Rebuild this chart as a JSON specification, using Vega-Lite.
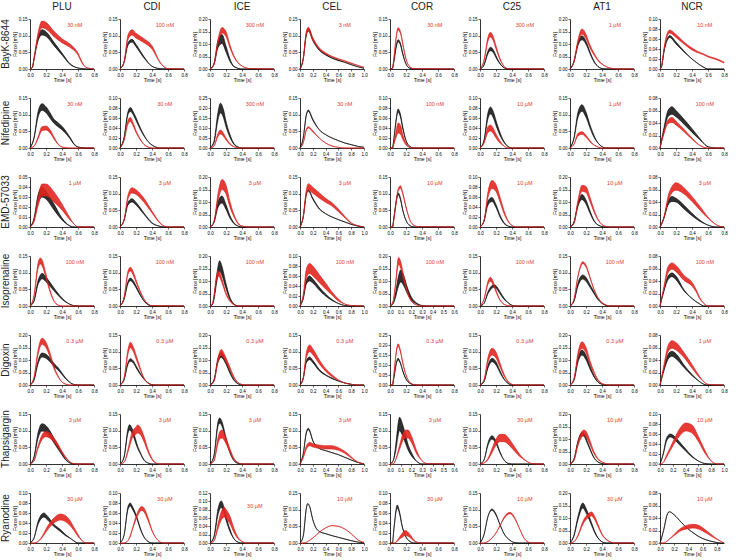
{
"$schema": "https://vega.github.io/schema/vega-lite/v6.json",
"padding": {"left": 0, "top": 2, "right": 0, "bottom": 2},
"datasets": {
"panels": [
{"i":"B1","r":"BayK-8644","c":"PLU"},{"i":"B2","r":"BayK-8644","c":"CDI"},{"i":"B3","r":"BayK-8644","c":"ICE"},{"i":"B4","r":"BayK-8644","c":"CEL"},{"i":"B5","r":"BayK-8644","c":"COR"},{"i":"B6","r":"BayK-8644","c":"C25"},{"i":"B7","r":"BayK-8644","c":"AT1"},{"i":"B8","r":"BayK-8644","c":"NCR"},
{"i":"N1","r":"Nifedipine","c":"PLU"},{"i":"N2","r":"Nifedipine","c":"CDI"},{"i":"N3","r":"Nifedipine","c":"ICE"},{"i":"N4","r":"Nifedipine","c":"CEL"},{"i":"N5","r":"Nifedipine","c":"COR"},{"i":"N6","r":"Nifedipine","c":"C25"},{"i":"N7","r":"Nifedipine","c":"AT1"},{"i":"N8","r":"Nifedipine","c":"NCR"},
{"i":"E1","r":"EMD-57033","c":"PLU"},{"i":"E2","r":"EMD-57033","c":"CDI"},{"i":"E3","r":"EMD-57033","c":"ICE"},{"i":"E4","r":"EMD-57033","c":"CEL"},{"i":"E5","r":"EMD-57033","c":"COR"},{"i":"E6","r":"EMD-57033","c":"C25"},{"i":"E7","r":"EMD-57033","c":"AT1"},{"i":"E8","r":"EMD-57033","c":"NCR"},
{"i":"I1","r":"Isoprenaline","c":"PLU"},{"i":"I2","r":"Isoprenaline","c":"CDI"},{"i":"I3","r":"Isoprenaline","c":"ICE"},{"i":"I4","r":"Isoprenaline","c":"CEL"},{"i":"I5","r":"Isoprenaline","c":"COR"},{"i":"I6","r":"Isoprenaline","c":"C25"},{"i":"I7","r":"Isoprenaline","c":"AT1"},{"i":"I8","r":"Isoprenaline","c":"NCR"},
{"i":"D1","r":"Digoxin","c":"PLU"},{"i":"D2","r":"Digoxin","c":"CDI"},{"i":"D3","r":"Digoxin","c":"ICE"},{"i":"D4","r":"Digoxin","c":"CEL"},{"i":"D5","r":"Digoxin","c":"COR"},{"i":"D6","r":"Digoxin","c":"C25"},{"i":"D7","r":"Digoxin","c":"AT1"},{"i":"D8","r":"Digoxin","c":"NCR"},
{"i":"T1","r":"Thapsigargin","c":"PLU"},{"i":"T2","r":"Thapsigargin","c":"CDI"},{"i":"T3","r":"Thapsigargin","c":"ICE"},{"i":"T4","r":"Thapsigargin","c":"CEL"},{"i":"T5","r":"Thapsigargin","c":"COR"},{"i":"T6","r":"Thapsigargin","c":"C25"},{"i":"T7","r":"Thapsigargin","c":"AT1"},{"i":"T8","r":"Thapsigargin","c":"NCR"},
{"i":"R1","r":"Ryanodine","c":"PLU"},{"i":"R2","r":"Ryanodine","c":"CDI"},{"i":"R3","r":"Ryanodine","c":"ICE"},{"i":"R4","r":"Ryanodine","c":"CEL"},{"i":"R5","r":"Ryanodine","c":"COR"},{"i":"R6","r":"Ryanodine","c":"C25"},{"i":"R7","r":"Ryanodine","c":"AT1"},{"i":"R8","r":"Ryanodine","c":"NCR"}
],
"curves": [
{"i":"B1","t":0.56,"y":0.132,"lab":"30 nM"},
{"i":"B1","t":0,"a":0,"b":0,"p":0,"q":0},{"i":"B1","t":0.03,"a":0.005,"b":0.005,"p":0.005,"q":0.005},{"i":"B1","t":0.05,"a":0.028,"b":0.032,"p":0.028,"q":0.032},{"i":"B1","t":0.1,"a":0.084,"b":0.096,"p":0.093,"q":0.108},{"i":"B1","t":0.15,"a":0.102,"b":0.118,"p":0.124,"q":0.144},{"i":"B1","t":0.2,"a":0.098,"b":0.112,"p":0.12,"q":0.14},{"i":"B1","t":0.3,"a":0.07,"b":0.08,"p":0.097,"q":0.113},{"i":"B1","t":0.4,"a":0.042,"b":0.048,"p":0.079,"q":0.091},{"i":"B1","t":0.5,"a":0.014,"b":0.016,"p":0.065,"q":0.075},{"i":"B1","t":0.6,"a":0.003,"b":0.003,"p":0.042,"q":0.048},{"i":"B1","t":0.65,"a":0.001,"b":0.001,"p":0.018,"q":0.022},{"i":"B1","t":0.7,"a":0,"b":0,"p":0.005,"q":0.005},{"i":"B1","t":0.8,"a":0,"b":0,"p":0,"q":0},
{"i":"B2","t":0.56,"y":0.132,"lab":"100 nM"},
{"i":"B2","t":0,"a":0,"b":0,"p":0,"q":0},{"i":"B2","t":0.05,"a":0.019,"b":0.021,"p":0.019,"q":0.021},{"i":"B2","t":0.1,"a":0.071,"b":0.079,"p":0.088,"q":0.102},{"i":"B2","t":0.15,"a":0.081,"b":0.089,"p":0.102,"q":0.118},{"i":"B2","t":0.2,"a":0.067,"b":0.074,"p":0.093,"q":0.107},{"i":"B2","t":0.3,"a":0.033,"b":0.037,"p":0.079,"q":0.091},{"i":"B2","t":0.4,"a":0.008,"b":0.008,"p":0.06,"q":0.07},{"i":"B2","t":0.5,"a":0.001,"b":0.001,"p":0.019,"q":0.021},{"i":"B2","t":0.6,"a":0,"b":0,"p":0.001,"q":0.001},{"i":"B2","t":0.8,"a":0,"b":0,"p":0,"q":0},
{"i":"B3","t":0.56,"y":0.176,"lab":"300 nM"},
{"i":"B3","t":0,"a":0,"b":0,"p":0,"q":0},{"i":"B3","t":0.05,"a":0.017,"b":0.023,"p":0.019,"q":0.021},{"i":"B3","t":0.1,"a":0.085,"b":0.115,"p":0.102,"q":0.118},{"i":"B3","t":0.15,"a":0.102,"b":0.138,"p":0.144,"q":0.166},{"i":"B3","t":0.2,"a":0.068,"b":0.092,"p":0.13,"q":0.15},{"i":"B3","t":0.25,"a":0.03,"b":0.04,"p":0.084,"q":0.096},{"i":"B3","t":0.3,"a":0.009,"b":0.011,"p":0.047,"q":0.053},{"i":"B3","t":0.4,"a":0,"b":0,"p":0.012,"q":0.012},{"i":"B3","t":0.5,"a":0,"b":0,"p":0.002,"q":0.002},{"i":"B3","t":0.8,"a":0,"b":0,"p":0,"q":0},
{"i":"B4","t":0.7,"y":0.132,"lab":"3 nM"},
{"i":"B4","t":0,"a":0,"b":0,"p":0,"q":0},{"i":"B4","t":0.05,"a":0.029,"b":0.031,"p":0.029,"q":0.031},{"i":"B4","t":0.1,"a":0.102,"b":0.108,"p":0.106,"q":0.114},{"i":"B4","t":0.13,"a":0.114,"b":0.122,"p":0.115,"q":0.125},{"i":"B4","t":0.2,"a":0.085,"b":0.091,"p":0.086,"q":0.094},{"i":"B4","t":0.3,"a":0.056,"b":0.06,"p":0.06,"q":0.064},{"i":"B4","t":0.4,"a":0.042,"b":0.044,"p":0.045,"q":0.049},{"i":"B4","t":0.5,"a":0.032,"b":0.034,"p":0.036,"q":0.038},{"i":"B4","t":0.6,"a":0.025,"b":0.027,"p":0.029,"q":0.031},{"i":"B4","t":0.7,"a":0.02,"b":0.02,"p":0.023,"q":0.025},{"i":"B4","t":0.8,"a":0.013,"b":0.013,"p":0.016,"q":0.018},{"i":"B4","t":0.9,"a":0.007,"b":0.007,"p":0.011,"q":0.011},{"i":"B4","t":1.0,"a":0.002,"b":0.002,"p":0.005,"q":0.005},
{"i":"B5","t":0.56,"y":0.132,"lab":"30 nM"},
{"i":"B5","t":0,"a":0,"b":0,"p":0,"q":0},{"i":"B5","t":0.03,"a":0.002,"b":0.002,"p":0.002,"q":0.002},{"i":"B5","t":0.05,"a":0.024,"b":0.026,"p":0.034,"q":0.036},{"i":"B5","t":0.08,"a":0.067,"b":0.073,"p":0.097,"q":0.103},{"i":"B5","t":0.1,"a":0.082,"b":0.088,"p":0.116,"q":0.124},{"i":"B5","t":0.13,"a":0.072,"b":0.078,"p":0.107,"q":0.113},{"i":"B5","t":0.16,"a":0.043,"b":0.047,"p":0.073,"q":0.077},{"i":"B5","t":0.2,"a":0.015,"b":0.015,"p":0.029,"q":0.031},{"i":"B5","t":0.25,"a":0.002,"b":0.002,"p":0.006,"q":0.006},{"i":"B5","t":0.3,"a":0,"b":0,"p":0.001,"q":0.001},{"i":"B5","t":0.8,"a":0,"b":0,"p":0,"q":0},
{"i":"B6","t":0.56,"y":0.132,"lab":"300 nM"},
{"i":"B6","t":0,"a":0,"b":0,"p":0,"q":0},{"i":"B6","t":0.05,"a":0.011,"b":0.013,"p":0.023,"q":0.027},{"i":"B6","t":0.1,"a":0.046,"b":0.054,"p":0.084,"q":0.096},{"i":"B6","t":0.13,"a":0.055,"b":0.065,"p":0.096,"q":0.11},{"i":"B6","t":0.17,"a":0.048,"b":0.056,"p":0.082,"q":0.094},{"i":"B6","t":0.2,"a":0.034,"b":0.04,"p":0.06,"q":0.07},{"i":"B6","t":0.25,"a":0.015,"b":0.017,"p":0.028,"q":0.032},{"i":"B6","t":0.3,"a":0.004,"b":0.004,"p":0.008,"q":0.008},{"i":"B6","t":0.35,"a":0,"b":0,"p":0.001,"q":0.001},{"i":"B6","t":0.8,"a":0,"b":0,"p":0,"q":0},
{"i":"B7","t":0.56,"y":0.176,"lab":"1 µM"},
{"i":"B7","t":0,"a":0,"b":0,"p":0,"q":0},{"i":"B7","t":0.05,"a":0.028,"b":0.032,"p":0.028,"q":0.032},{"i":"B7","t":0.1,"a":0.094,"b":0.106,"p":0.102,"q":0.118},{"i":"B7","t":0.15,"a":0.117,"b":0.133,"p":0.14,"q":0.16},{"i":"B7","t":0.2,"a":0.099,"b":0.111,"p":0.121,"q":0.139},{"i":"B7","t":0.25,"a":0.061,"b":0.069,"p":0.084,"q":0.096},{"i":"B7","t":0.3,"a":0.028,"b":0.032,"p":0.056,"q":0.064},{"i":"B7","t":0.35,"a":0.01,"b":0.01,"p":0.033,"q":0.037},{"i":"B7","t":0.4,"a":0.002,"b":0.002,"p":0.019,"q":0.021},{"i":"B7","t":0.5,"a":0,"b":0,"p":0.004,"q":0.004},{"i":"B7","t":0.6,"a":0,"b":0,"p":0,"q":0},{"i":"B7","t":0.8,"a":0,"b":0,"p":0,"q":0},
{"i":"B8","t":0.56,"y":0.088,"lab":"10 nM"},
{"i":"B8","t":0,"a":0,"b":0,"p":0,"q":0},{"i":"B8","t":0.02,"a":0.005,"b":0.005,"p":0.006,"q":0.006},{"i":"B8","t":0.05,"a":0.034,"b":0.036,"p":0.038,"q":0.042},{"i":"B8","t":0.1,"a":0.06,"b":0.064,"p":0.069,"q":0.075},{"i":"B8","t":0.12,"a":0.063,"b":0.067,"p":0.072,"q":0.078},{"i":"B8","t":0.2,"a":0.05,"b":0.054,"p":0.063,"q":0.069},{"i":"B8","t":0.3,"a":0.034,"b":0.036,"p":0.05,"q":0.054},{"i":"B8","t":0.4,"a":0.02,"b":0.02,"p":0.038,"q":0.042},{"i":"B8","t":0.5,"a":0.008,"b":0.008,"p":0.031,"q":0.033},{"i":"B8","t":0.55,"a":0.003,"b":0.003,"p":0.028,"q":0.03},{"i":"B8","t":0.6,"a":0,"b":0,"p":0.024,"q":0.026},{"i":"B8","t":0.7,"a":0,"b":0,"p":0.019,"q":0.021},{"i":"B8","t":0.8,"a":0,"b":0,"p":0.012,"q":0.014},
{"i":"N1","t":0.56,"y":0.132,"lab":"30 nM"},
{"i":"N1","t":0,"a":0,"b":0,"p":0,"q":0},{"i":"N1","t":0.05,"a":0.028,"b":0.032,"p":0.005,"q":0.005},{"i":"N1","t":0.1,"a":0.092,"b":0.108,"p":0.027,"q":0.033},{"i":"N1","t":0.15,"a":0.113,"b":0.133,"p":0.052,"q":0.064},{"i":"N1","t":0.2,"a":0.106,"b":0.124,"p":0.054,"q":0.066},{"i":"N1","t":0.25,"a":0.09,"b":0.106,"p":0.045,"q":0.055},{"i":"N1","t":0.3,"a":0.074,"b":0.086,"p":0.027,"q":0.033},{"i":"N1","t":0.35,"a":0.064,"b":0.076,"p":0.011,"q":0.013},{"i":"N1","t":0.4,"a":0.055,"b":0.065,"p":0.003,"q":0.003},{"i":"N1","t":0.5,"a":0.028,"b":0.032,"p":0,"q":0},{"i":"N1","t":0.55,"a":0.011,"b":0.013,"p":0,"q":0},{"i":"N1","t":0.6,"a":0.003,"b":0.003,"p":0,"q":0},{"i":"N1","t":0.7,"a":0,"b":0,"p":0,"q":0},{"i":"N1","t":0.8,"a":0,"b":0,"p":0,"q":0},
{"i":"N2","t":0.56,"y":0.088,"lab":"30 nM"},
{"i":"N2","t":0,"a":0,"b":0,"p":0,"q":0},{"i":"N2","t":0.05,"a":0.019,"b":0.021,"p":0.014,"q":0.016},{"i":"N2","t":0.1,"a":0.067,"b":0.073,"p":0.048,"q":0.056},{"i":"N2","t":0.13,"a":0.073,"b":0.081,"p":0.053,"q":0.061},{"i":"N2","t":0.17,"a":0.065,"b":0.071,"p":0.042,"q":0.048},{"i":"N2","t":0.2,"a":0.055,"b":0.061,"p":0.031,"q":0.035},{"i":"N2","t":0.25,"a":0.038,"b":0.042,"p":0.017,"q":0.019},{"i":"N2","t":0.3,"a":0.024,"b":0.026,"p":0.007,"q":0.007},{"i":"N2","t":0.35,"a":0.013,"b":0.013,"p":0.002,"q":0.002},{"i":"N2","t":0.4,"a":0.006,"b":0.006,"p":0,"q":0},{"i":"N2","t":0.5,"a":0,"b":0,"p":0,"q":0},{"i":"N2","t":0.8,"a":0,"b":0,"p":0,"q":0},
{"i":"N3","t":0.56,"y":0.22,"lab":"300 nM"},
{"i":"N3","t":0,"a":0,"b":0,"p":0,"q":0},{"i":"N3","t":0.05,"a":0.026,"b":0.034,"p":0.01,"q":0.01},{"i":"N3","t":0.1,"a":0.141,"b":0.179,"p":0.057,"q":0.073},{"i":"N3","t":0.13,"a":0.176,"b":0.224,"p":0.07,"q":0.09},{"i":"N3","t":0.17,"a":0.15,"b":0.19,"p":0.057,"q":0.073},{"i":"N3","t":0.2,"a":0.106,"b":0.134,"p":0.04,"q":0.05},{"i":"N3","t":0.25,"a":0.053,"b":0.067,"p":0.018,"q":0.022},{"i":"N3","t":0.3,"a":0.018,"b":0.022,"p":0.006,"q":0.006},{"i":"N3","t":0.35,"a":0.005,"b":0.005,"p":0.001,"q":0.001},{"i":"N3","t":0.4,"a":0,"b":0,"p":0,"q":0},{"i":"N3","t":0.8,"a":0,"b":0,"p":0,"q":0},
{"i":"N4","t":0.7,"y":0.132,"lab":"30 nM"},
{"i":"N4","t":0,"a":0,"b":0,"p":0,"q":0},{"i":"N4","t":0.05,"a":0.03,"b":0.03,"p":0.015,"q":0.015},{"i":"N4","t":0.1,"a":0.098,"b":0.102,"p":0.053,"q":0.057},{"i":"N4","t":0.13,"a":0.11,"b":0.114,"p":0.06,"q":0.064},{"i":"N4","t":0.2,"a":0.083,"b":0.087,"p":0.048,"q":0.052},{"i":"N4","t":0.3,"a":0.055,"b":0.055,"p":0.03,"q":0.03},{"i":"N4","t":0.4,"a":0.04,"b":0.04,"p":0.015,"q":0.015},{"i":"N4","t":0.5,"a":0.03,"b":0.03,"p":0.006,"q":0.006},{"i":"N4","t":0.6,"a":0.022,"b":0.022,"p":0.002,"q":0.002},{"i":"N4","t":0.7,"a":0.015,"b":0.015,"p":0,"q":0},{"i":"N4","t":0.8,"a":0.01,"b":0.01,"p":0,"q":0},{"i":"N4","t":0.9,"a":0.005,"b":0.005,"p":0,"q":0},{"i":"N4","t":1.0,"a":0.002,"b":0.002,"p":0,"q":0},
{"i":"N5","t":0.56,"y":0.088,"lab":"100 nM"},
{"i":"N5","t":0,"a":0,"b":0,"p":0,"q":0},{"i":"N5","t":0.03,"a":0,"b":0,"p":0,"q":0},{"i":"N5","t":0.05,"a":0.02,"b":0.02,"p":0.008,"q":0.012},{"i":"N5","t":0.08,"a":0.058,"b":0.062,"p":0.023,"q":0.037},{"i":"N5","t":0.1,"a":0.072,"b":0.078,"p":0.03,"q":0.05},{"i":"N5","t":0.13,"a":0.062,"b":0.068,"p":0.028,"q":0.046},{"i":"N5","t":0.16,"a":0.038,"b":0.042,"p":0.017,"q":0.027},{"i":"N5","t":0.2,"a":0.015,"b":0.015,"p":0.006,"q":0.01},{"i":"N5","t":0.25,"a":0.003,"b":0.003,"p":0.001,"q":0.001},{"i":"N5","t":0.3,"a":0,"b":0,"p":0,"q":0},{"i":"N5","t":0.8,"a":0,"b":0,"p":0,"q":0},
{"i":"N6","t":0.56,"y":0.088,"lab":"10 µM"},
{"i":"N6","t":0,"a":0,"b":0,"p":0,"q":0},{"i":"N6","t":0.05,"a":0.014,"b":0.016,"p":0.01,"q":0.01},{"i":"N6","t":0.1,"a":0.059,"b":0.071,"p":0.031,"q":0.043},{"i":"N6","t":0.13,"a":0.068,"b":0.082,"p":0.034,"q":0.046},{"i":"N6","t":0.17,"a":0.059,"b":0.071,"p":0.028,"q":0.038},{"i":"N6","t":0.2,"a":0.045,"b":0.055,"p":0.02,"q":0.028},{"i":"N6","t":0.25,"a":0.025,"b":0.031,"p":0.01,"q":0.014},{"i":"N6","t":0.3,"a":0.011,"b":0.013,"p":0.004,"q":0.004},{"i":"N6","t":0.35,"a":0.003,"b":0.003,"p":0,"q":0},{"i":"N6","t":0.4,"a":0,"b":0,"p":0,"q":0},{"i":"N6","t":0.8,"a":0,"b":0,"p":0,"q":0},
{"i":"N7","t":0.56,"y":0.132,"lab":"1 µM"},
{"i":"N7","t":0,"a":0,"b":0,"p":0,"q":0},{"i":"N7","t":0.05,"a":0.028,"b":0.032,"p":0.012,"q":0.012},{"i":"N7","t":0.1,"a":0.092,"b":0.108,"p":0.036,"q":0.044},{"i":"N7","t":0.15,"a":0.11,"b":0.13,"p":0.041,"q":0.049},{"i":"N7","t":0.2,"a":0.092,"b":0.108,"p":0.032,"q":0.038},{"i":"N7","t":0.25,"a":0.06,"b":0.07,"p":0.018,"q":0.022},{"i":"N7","t":0.3,"a":0.032,"b":0.038,"p":0.009,"q":0.009},{"i":"N7","t":0.35,"a":0.015,"b":0.015,"p":0.003,"q":0.003},{"i":"N7","t":0.4,"a":0.004,"b":0.004,"p":0,"q":0},{"i":"N7","t":0.45,"a":0,"b":0,"p":0,"q":0},{"i":"N7","t":0.8,"a":0,"b":0,"p":0,"q":0},
{"i":"N8","t":0.56,"y":0.07,"lab":"100 nM"},
{"i":"N8","t":0,"a":0,"b":0,"p":0,"q":0},{"i":"N8","t":0.05,"a":0.027,"b":0.033,"p":0.023,"q":0.027},{"i":"N8","t":0.1,"a":0.05,"b":0.06,"p":0.039,"q":0.045},{"i":"N8","t":0.15,"a":0.054,"b":0.066,"p":0.041,"q":0.049},{"i":"N8","t":0.2,"a":0.05,"b":0.06,"p":0.037,"q":0.043},{"i":"N8","t":0.3,"a":0.038,"b":0.046,"p":0.026,"q":0.03},{"i":"N8","t":0.4,"a":0.025,"b":0.031,"p":0.014,"q":0.016},{"i":"N8","t":0.5,"a":0.013,"b":0.015,"p":0.004,"q":0.004},{"i":"N8","t":0.55,"a":0.007,"b":0.007,"p":0.001,"q":0.001},{"i":"N8","t":0.6,"a":0.002,"b":0.002,"p":0,"q":0},{"i":"N8","t":0.7,"a":0,"b":0,"p":0,"q":0},{"i":"N8","t":0.8,"a":0,"b":0,"p":0,"q":0},
{"i":"E1","t":0.56,"y":0.044,"lab":"1 µM"},
{"i":"E1","t":0,"a":0,"b":0,"p":0,"q":0},{"i":"E1","t":0.05,"a":0.007,"b":0.009,"p":0.005,"q":0.007},{"i":"E1","t":0.1,"a":0.024,"b":0.032,"p":0.021,"q":0.029},{"i":"E1","t":0.15,"a":0.03,"b":0.04,"p":0.031,"q":0.043},{"i":"E1","t":0.2,"a":0.028,"b":0.036,"p":0.031,"q":0.043},{"i":"E1","t":0.3,"a":0.017,"b":0.023,"p":0.025,"q":0.035},{"i":"E1","t":0.4,"a":0.007,"b":0.009,"p":0.017,"q":0.023},{"i":"E1","t":0.5,"a":0.001,"b":0.001,"p":0.007,"q":0.009},{"i":"E1","t":0.55,"a":0,"b":0,"p":0.003,"q":0.003},{"i":"E1","t":0.6,"a":0,"b":0,"p":0,"q":0},{"i":"E1","t":0.8,"a":0,"b":0,"p":0,"q":0},
{"i":"E2","t":0.56,"y":0.132,"lab":"3 µM"},
{"i":"E2","t":0,"a":0,"b":0,"p":0,"q":0},{"i":"E2","t":0.05,"a":0.019,"b":0.021,"p":0.019,"q":0.021},{"i":"E2","t":0.1,"a":0.066,"b":0.074,"p":0.084,"q":0.096},{"i":"E2","t":0.15,"a":0.075,"b":0.085,"p":0.102,"q":0.118},{"i":"E2","t":0.2,"a":0.066,"b":0.074,"p":0.098,"q":0.112},{"i":"E2","t":0.3,"a":0.038,"b":0.042,"p":0.074,"q":0.086},{"i":"E2","t":0.4,"a":0.011,"b":0.013,"p":0.042,"q":0.048},{"i":"E2","t":0.5,"a":0.002,"b":0.002,"p":0.011,"q":0.013},{"i":"E2","t":0.55,"a":0,"b":0,"p":0.003,"q":0.003},{"i":"E2","t":0.6,"a":0,"b":0,"p":0,"q":0},{"i":"E2","t":0.8,"a":0,"b":0,"p":0,"q":0},
{"i":"E3","t":0.56,"y":0.176,"lab":"3 µM"},
{"i":"E3","t":0,"a":0,"b":0,"p":0,"q":0},{"i":"E3","t":0.05,"a":0.017,"b":0.023,"p":0.018,"q":0.022},{"i":"E3","t":0.1,"a":0.078,"b":0.102,"p":0.106,"q":0.134},{"i":"E3","t":0.15,"a":0.096,"b":0.124,"p":0.15,"q":0.19},{"i":"E3","t":0.2,"a":0.07,"b":0.09,"p":0.132,"q":0.168},{"i":"E3","t":0.25,"a":0.035,"b":0.045,"p":0.079,"q":0.101},{"i":"E3","t":0.3,"a":0.013,"b":0.017,"p":0.04,"q":0.05},{"i":"E3","t":0.35,"a":0.004,"b":0.004,"p":0.013,"q":0.017},{"i":"E3","t":0.4,"a":0,"b":0,"p":0.004,"q":0.004},{"i":"E3","t":0.5,"a":0,"b":0,"p":0,"q":0},{"i":"E3","t":0.8,"a":0,"b":0,"p":0,"q":0},
{"i":"E4","t":0.7,"y":0.132,"lab":"3 µM"},
{"i":"E4","t":0,"a":0,"b":0,"p":0,"q":0},{"i":"E4","t":0.05,"a":0.03,"b":0.03,"p":0.028,"q":0.032},{"i":"E4","t":0.1,"a":0.098,"b":0.102,"p":0.097,"q":0.113},{"i":"E4","t":0.13,"a":0.108,"b":0.112,"p":0.11,"q":0.13},{"i":"E4","t":0.2,"a":0.083,"b":0.087,"p":0.101,"q":0.119},{"i":"E4","t":0.3,"a":0.054,"b":0.056,"p":0.087,"q":0.103},{"i":"E4","t":0.4,"a":0.04,"b":0.04,"p":0.074,"q":0.086},{"i":"E4","t":0.5,"a":0.03,"b":0.03,"p":0.063,"q":0.073},{"i":"E4","t":0.6,"a":0.022,"b":0.022,"p":0.046,"q":0.054},{"i":"E4","t":0.7,"a":0.015,"b":0.015,"p":0.028,"q":0.032},{"i":"E4","t":0.8,"a":0.008,"b":0.008,"p":0.011,"q":0.013},{"i":"E4","t":0.9,"a":0.003,"b":0.003,"p":0.004,"q":0.004},{"i":"E4","t":1.0,"a":0,"b":0,"p":0,"q":0},
{"i":"E5","t":0.56,"y":0.132,"lab":"10 µM"},
{"i":"E5","t":0,"a":0,"b":0,"p":0,"q":0},{"i":"E5","t":0.03,"a":0,"b":0,"p":0,"q":0},{"i":"E5","t":0.05,"a":0.029,"b":0.031,"p":0.024,"q":0.026},{"i":"E5","t":0.08,"a":0.078,"b":0.082,"p":0.078,"q":0.082},{"i":"E5","t":0.1,"a":0.097,"b":0.103,"p":0.107,"q":0.113},{"i":"E5","t":0.13,"a":0.082,"b":0.088,"p":0.116,"q":0.124},{"i":"E5","t":0.16,"a":0.049,"b":0.051,"p":0.097,"q":0.103},{"i":"E5","t":0.2,"a":0.02,"b":0.02,"p":0.058,"q":0.062},{"i":"E5","t":0.25,"a":0.004,"b":0.004,"p":0.02,"q":0.02},{"i":"E5","t":0.3,"a":0,"b":0,"p":0.005,"q":0.005},{"i":"E5","t":0.35,"a":0,"b":0,"p":0.001,"q":0.001},{"i":"E5","t":0.8,"a":0,"b":0,"p":0,"q":0},
{"i":"E6","t":0.56,"y":0.088,"lab":"10 µM"},
{"i":"E6","t":0,"a":0,"b":0,"p":0,"q":0},{"i":"E6","t":0.05,"a":0.011,"b":0.013,"p":0.011,"q":0.013},{"i":"E6","t":0.1,"a":0.044,"b":0.052,"p":0.059,"q":0.071},{"i":"E6","t":0.15,"a":0.051,"b":0.059,"p":0.077,"q":0.093},{"i":"E6","t":0.2,"a":0.039,"b":0.045,"p":0.071,"q":0.085},{"i":"E6","t":0.25,"a":0.02,"b":0.024,"p":0.05,"q":0.06},{"i":"E6","t":0.3,"a":0.007,"b":0.009,"p":0.027,"q":0.033},{"i":"E6","t":0.35,"a":0.002,"b":0.002,"p":0.011,"q":0.013},{"i":"E6","t":0.4,"a":0,"b":0,"p":0.003,"q":0.003},{"i":"E6","t":0.45,"a":0,"b":0,"p":0,"q":0},{"i":"E6","t":0.8,"a":0,"b":0,"p":0,"q":0},
{"i":"E7","t":0.56,"y":0.176,"lab":"10 µM"},
{"i":"E7","t":0,"a":0,"b":0,"p":0,"q":0},{"i":"E7","t":0.05,"a":0.018,"b":0.022,"p":0.014,"q":0.016},{"i":"E7","t":0.1,"a":0.083,"b":0.097,"p":0.092,"q":0.108},{"i":"E7","t":0.15,"a":0.11,"b":0.13,"p":0.143,"q":0.167},{"i":"E7","t":0.2,"a":0.092,"b":0.108,"p":0.138,"q":0.162},{"i":"E7","t":0.25,"a":0.055,"b":0.065,"p":0.101,"q":0.119},{"i":"E7","t":0.3,"a":0.023,"b":0.027,"p":0.06,"q":0.07},{"i":"E7","t":0.35,"a":0.008,"b":0.008,"p":0.028,"q":0.032},{"i":"E7","t":0.4,"a":0.002,"b":0.002,"p":0.01,"q":0.01},{"i":"E7","t":0.45,"a":0,"b":0,"p":0.002,"q":0.002},{"i":"E7","t":0.5,"a":0,"b":0,"p":0,"q":0},{"i":"E7","t":0.8,"a":0,"b":0,"p":0,"q":0},
{"i":"E8","t":0.56,"y":0.07,"lab":"3 µM"},
{"i":"E8","t":0,"a":0,"b":0,"p":0,"q":0},{"i":"E8","t":0.05,"a":0.014,"b":0.016,"p":0.014,"q":0.016},{"i":"E8","t":0.1,"a":0.035,"b":0.041,"p":0.041,"q":0.049},{"i":"E8","t":0.15,"a":0.041,"b":0.049,"p":0.055,"q":0.065},{"i":"E8","t":0.2,"a":0.04,"b":0.046,"p":0.059,"q":0.071},{"i":"E8","t":0.3,"a":0.029,"b":0.035,"p":0.053,"q":0.063},{"i":"E8","t":0.4,"a":0.018,"b":0.022,"p":0.041,"q":0.049},{"i":"E8","t":0.5,"a":0.009,"b":0.011,"p":0.027,"q":0.033},{"i":"E8","t":0.6,"a":0.003,"b":0.003,"p":0.014,"q":0.016},{"i":"E8","t":0.7,"a":0,"b":0,"p":0.004,"q":0.004},{"i":"E8","t":0.75,"a":0,"b":0,"p":0.001,"q":0.001},{"i":"E8","t":0.8,"a":0,"b":0,"p":0,"q":0},
{"i":"I1","t":0.56,"y":0.132,"lab":"100 nM"},
{"i":"I1","t":0,"a":0,"b":0,"p":0,"q":0},{"i":"I1","t":0.05,"a":0.014,"b":0.016,"p":0.028,"q":0.032},{"i":"I1","t":0.1,"a":0.064,"b":0.076,"p":0.112,"q":0.128},{"i":"I1","t":0.13,"a":0.077,"b":0.093,"p":0.126,"q":0.144},{"i":"I1","t":0.15,"a":0.082,"b":0.098,"p":0.121,"q":0.139},{"i":"I1","t":0.2,"a":0.073,"b":0.087,"p":0.084,"q":0.096},{"i":"I1","t":0.25,"a":0.059,"b":0.071,"p":0.042,"q":0.048},{"i":"I1","t":0.3,"a":0.046,"b":0.054,"p":0.014,"q":0.016},{"i":"I1","t":0.35,"a":0.032,"b":0.038,"p":0.003,"q":0.003},{"i":"I1","t":0.4,"a":0.02,"b":0.024,"p":0,"q":0},{"i":"I1","t":0.5,"a":0.005,"b":0.005,"p":0,"q":0},{"i":"I1","t":0.55,"a":0.001,"b":0.001,"p":0,"q":0},{"i":"I1","t":0.6,"a":0,"b":0,"p":0,"q":0},{"i":"I1","t":0.8,"a":0,"b":0,"p":0,"q":0},
{"i":"I2","t":0.56,"y":0.132,"lab":"100 nM"},
{"i":"I2","t":0,"a":0,"b":0,"p":0,"q":0},{"i":"I2","t":0.05,"a":0.019,"b":0.021,"p":0.024,"q":0.026},{"i":"I2","t":0.1,"a":0.067,"b":0.074,"p":0.095,"q":0.105},{"i":"I2","t":0.13,"a":0.076,"b":0.084,"p":0.105,"q":0.116},{"i":"I2","t":0.17,"a":0.067,"b":0.074,"p":0.09,"q":0.1},{"i":"I2","t":0.2,"a":0.055,"b":0.061,"p":0.071,"q":0.079},{"i":"I2","t":0.25,"a":0.033,"b":0.037,"p":0.043,"q":0.047},{"i":"I2","t":0.3,"a":0.015,"b":0.015,"p":0.019,"q":0.021},{"i":"I2","t":0.35,"a":0.004,"b":0.004,"p":0.006,"q":0.006},{"i":"I2","t":0.4,"a":0,"b":0,"p":0.001,"q":0.001},{"i":"I2","t":0.8,"a":0,"b":0,"p":0,"q":0},
{"i":"I3","t":0.56,"y":0.176,"lab":"100 nM"},
{"i":"I3","t":0,"a":0,"b":0,"p":0,"q":0},{"i":"I3","t":0.03,"a":0.005,"b":0.005,"p":0.01,"q":0.01},{"i":"I3","t":0.05,"a":0.026,"b":0.034,"p":0.037,"q":0.043},{"i":"I3","t":0.08,"a":0.087,"b":0.113,"p":0.101,"q":0.119},{"i":"I3","t":0.1,"a":0.122,"b":0.158,"p":0.12,"q":0.14},{"i":"I3","t":0.12,"a":0.139,"b":0.181,"p":0.115,"q":0.135},{"i":"I3","t":0.15,"a":0.122,"b":0.158,"p":0.092,"q":0.108},{"i":"I3","t":0.2,"a":0.07,"b":0.09,"p":0.046,"q":0.054},{"i":"I3","t":0.25,"a":0.026,"b":0.034,"p":0.018,"q":0.022},{"i":"I3","t":0.3,"a":0.008,"b":0.008,"p":0.005,"q":0.005},{"i":"I3","t":0.35,"a":0,"b":0,"p":0,"q":0},{"i":"I3","t":0.8,"a":0,"b":0,"p":0,"q":0},
{"i":"I4","t":0.7,"y":0.088,"lab":"100 nM"},
{"i":"I4","t":0,"a":0,"b":0,"p":0,"q":0},{"i":"I4","t":0.05,"a":0.014,"b":0.016,"p":0.017,"q":0.023},{"i":"I4","t":0.1,"a":0.044,"b":0.052,"p":0.056,"q":0.074},{"i":"I4","t":0.15,"a":0.05,"b":0.06,"p":0.065,"q":0.085},{"i":"I4","t":0.2,"a":0.046,"b":0.054,"p":0.06,"q":0.08},{"i":"I4","t":0.3,"a":0.032,"b":0.038,"p":0.047,"q":0.063},{"i":"I4","t":0.4,"a":0.02,"b":0.024,"p":0.034,"q":0.046},{"i":"I4","t":0.5,"a":0.011,"b":0.013,"p":0.022,"q":0.028},{"i":"I4","t":0.6,"a":0.005,"b":0.005,"p":0.01,"q":0.014},{"i":"I4","t":0.7,"a":0.001,"b":0.001,"p":0.004,"q":0.004},{"i":"I4","t":0.8,"a":0,"b":0,"p":0.001,"q":0.001},{"i":"I4","t":1.0,"a":0,"b":0,"p":0,"q":0},
{"i":"I5","t":0.42,"y":0.176,"lab":"100 nM"},
{"i":"I5","t":0,"a":0,"b":0,"p":0,"q":0},{"i":"I5","t":0.03,"a":0.01,"b":0.01,"p":0.018,"q":0.022},{"i":"I5","t":0.05,"a":0.032,"b":0.048,"p":0.074,"q":0.086},{"i":"I5","t":0.08,"a":0.08,"b":0.12,"p":0.166,"q":0.194},{"i":"I5","t":0.1,"a":0.096,"b":0.144,"p":0.152,"q":0.178},{"i":"I5","t":0.13,"a":0.08,"b":0.12,"p":0.101,"q":0.119},{"i":"I5","t":0.16,"a":0.052,"b":0.078,"p":0.055,"q":0.065},{"i":"I5","t":0.2,"a":0.024,"b":0.036,"p":0.018,"q":0.022},{"i":"I5","t":0.25,"a":0.008,"b":0.012,"p":0.004,"q":0.004},{"i":"I5","t":0.3,"a":0.002,"b":0.002,"p":0,"q":0},{"i":"I5","t":0.35,"a":0,"b":0,"p":0,"q":0},{"i":"I5","t":0.6,"a":0,"b":0,"p":0,"q":0},
{"i":"I6","t":0.56,"y":0.132,"lab":"100 nM"},
{"i":"I6","t":0,"a":0,"b":0,"p":0,"q":0},{"i":"I6","t":0.05,"a":0.008,"b":0.008,"p":0.019,"q":0.021},{"i":"I6","t":0.1,"a":0.037,"b":0.043,"p":0.065,"q":0.075},{"i":"I6","t":0.13,"a":0.048,"b":0.056,"p":0.074,"q":0.086},{"i":"I6","t":0.17,"a":0.056,"b":0.064,"p":0.06,"q":0.07},{"i":"I6","t":0.2,"a":0.053,"b":0.061,"p":0.042,"q":0.048},{"i":"I6","t":0.25,"a":0.037,"b":0.043,"p":0.017,"q":0.019},{"i":"I6","t":0.3,"a":0.02,"b":0.024,"p":0.005,"q":0.005},{"i":"I6","t":0.35,"a":0.01,"b":0.01,"p":0.001,"q":0.001},{"i":"I6","t":0.4,"a":0.002,"b":0.002,"p":0,"q":0},{"i":"I6","t":0.45,"a":0,"b":0,"p":0,"q":0},{"i":"I6","t":0.8,"a":0,"b":0,"p":0,"q":0},
{"i":"I7","t":0.56,"y":0.132,"lab":"100 nM"},
{"i":"I7","t":0,"a":0,"b":0,"p":0,"q":0},{"i":"I7","t":0.05,"a":0.014,"b":0.016,"p":0.02,"q":0.02},{"i":"I7","t":0.1,"a":0.06,"b":0.07,"p":0.088,"q":0.092},{"i":"I7","t":0.16,"a":0.081,"b":0.093,"p":0.127,"q":0.133},{"i":"I7","t":0.2,"a":0.074,"b":0.086,"p":0.117,"q":0.123},{"i":"I7","t":0.25,"a":0.056,"b":0.064,"p":0.083,"q":0.087},{"i":"I7","t":0.3,"a":0.037,"b":0.043,"p":0.049,"q":0.051},{"i":"I7","t":0.35,"a":0.019,"b":0.021,"p":0.025,"q":0.025},{"i":"I7","t":0.4,"a":0.008,"b":0.008,"p":0.01,"q":0.01},{"i":"I7","t":0.45,"a":0.002,"b":0.002,"p":0.003,"q":0.003},{"i":"I7","t":0.5,"a":0,"b":0,"p":0,"q":0},{"i":"I7","t":0.8,"a":0,"b":0,"p":0,"q":0},
{"i":"I8","t":0.56,"y":0.07,"lab":"100 nM"},
{"i":"I8","t":0,"a":0,"b":0,"p":0,"q":0},{"i":"I8","t":0.05,"a":0.024,"b":0.026,"p":0.028,"q":0.032},{"i":"I8","t":0.1,"a":0.042,"b":0.048,"p":0.053,"q":0.063},{"i":"I8","t":0.15,"a":0.047,"b":0.053,"p":0.059,"q":0.069},{"i":"I8","t":0.2,"a":0.042,"b":0.048,"p":0.055,"q":0.065},{"i":"I8","t":0.3,"a":0.024,"b":0.026,"p":0.041,"q":0.049},{"i":"I8","t":0.4,"a":0.012,"b":0.012,"p":0.032,"q":0.038},{"i":"I8","t":0.45,"a":0.007,"b":0.007,"p":0.023,"q":0.027},{"i":"I8","t":0.5,"a":0.003,"b":0.003,"p":0.011,"q":0.013},{"i":"I8","t":0.55,"a":0,"b":0,"p":0.004,"q":0.004},{"i":"I8","t":0.6,"a":0,"b":0,"p":0,"q":0},{"i":"I8","t":0.8,"a":0,"b":0,"p":0,"q":0},
{"i":"D1","t":0.56,"y":0.176,"lab":"0.3 µM"},
{"i":"D1","t":0,"a":0,"b":0,"p":0,"q":0},{"i":"D1","t":0.05,"a":0.019,"b":0.021,"p":0.028,"q":0.032},{"i":"D1","t":0.1,"a":0.084,"b":0.096,"p":0.121,"q":0.139},{"i":"D1","t":0.15,"a":0.112,"b":0.128,"p":0.163,"q":0.187},{"i":"D1","t":0.2,"a":0.107,"b":0.123,"p":0.149,"q":0.171},{"i":"D1","t":0.25,"a":0.093,"b":0.107,"p":0.112,"q":0.128},{"i":"D1","t":0.3,"a":0.074,"b":0.086,"p":0.065,"q":0.075},{"i":"D1","t":0.35,"a":0.06,"b":0.07,"p":0.033,"q":0.037},{"i":"D1","t":0.4,"a":0.042,"b":0.048,"p":0.012,"q":0.012},{"i":"D1","t":0.45,"a":0.023,"b":0.027,"p":0.003,"q":0.003},{"i":"D1","t":0.5,"a":0.01,"b":0.01,"p":0,"q":0},{"i":"D1","t":0.55,"a":0.002,"b":0.002,"p":0,"q":0},{"i":"D1","t":0.6,"a":0,"b":0,"p":0,"q":0},{"i":"D1","t":0.8,"a":0,"b":0,"p":0,"q":0},
{"i":"D2","t":0.56,"y":0.132,"lab":"0.3 µM"},
{"i":"D2","t":0,"a":0,"b":0,"p":0,"q":0},{"i":"D2","t":0.05,"a":0.015,"b":0.015,"p":0.019,"q":0.021},{"i":"D2","t":0.1,"a":0.062,"b":0.068,"p":0.093,"q":0.107},{"i":"D2","t":0.13,"a":0.071,"b":0.079,"p":0.112,"q":0.128},{"i":"D2","t":0.17,"a":0.065,"b":0.071,"p":0.098,"q":0.112},{"i":"D2","t":0.2,"a":0.052,"b":0.058,"p":0.079,"q":0.091},{"i":"D2","t":0.25,"a":0.033,"b":0.037,"p":0.047,"q":0.053},{"i":"D2","t":0.3,"a":0.017,"b":0.019,"p":0.019,"q":0.021},{"i":"D2","t":0.35,"a":0.006,"b":0.006,"p":0.006,"q":0.006},{"i":"D2","t":0.4,"a":0.001,"b":0.001,"p":0.001,"q":0.001},{"i":"D2","t":0.45,"a":0,"b":0,"p":0,"q":0},{"i":"D2","t":0.8,"a":0,"b":0,"p":0,"q":0},
{"i":"D3","t":0.56,"y":0.176,"lab":"0.3 µM"},
{"i":"D3","t":0,"a":0,"b":0,"p":0,"q":0},{"i":"D3","t":0.05,"a":0.018,"b":0.022,"p":0.014,"q":0.016},{"i":"D3","t":0.1,"a":0.092,"b":0.108,"p":0.091,"q":0.109},{"i":"D3","t":0.14,"a":0.11,"b":0.13,"p":0.118,"q":0.142},{"i":"D3","t":0.2,"a":0.083,"b":0.097,"p":0.091,"q":0.109},{"i":"D3","t":0.25,"a":0.046,"b":0.054,"p":0.059,"q":0.071},{"i":"D3","t":0.3,"a":0.018,"b":0.022,"p":0.027,"q":0.033},{"i":"D3","t":0.35,"a":0.005,"b":0.005,"p":0.01,"q":0.01},{"i":"D3","t":0.4,"a":0,"b":0,"p":0.002,"q":0.002},{"i":"D3","t":0.45,"a":0,"b":0,"p":0,"q":0},{"i":"D3","t":0.8,"a":0,"b":0,"p":0,"q":0},
{"i":"D4","t":0.7,"y":0.132,"lab":"0.3 µM"},
{"i":"D4","t":0,"a":0,"b":0,"p":0,"q":0},{"i":"D4","t":0.05,"a":0.019,"b":0.021,"p":0.018,"q":0.022},{"i":"D4","t":0.1,"a":0.067,"b":0.074,"p":0.082,"q":0.098},{"i":"D4","t":0.15,"a":0.076,"b":0.084,"p":0.1,"q":0.12},{"i":"D4","t":0.2,"a":0.067,"b":0.074,"p":0.091,"q":0.109},{"i":"D4","t":0.3,"a":0.043,"b":0.047,"p":0.064,"q":0.076},{"i":"D4","t":0.4,"a":0.029,"b":0.031,"p":0.041,"q":0.049},{"i":"D4","t":0.5,"a":0.019,"b":0.021,"p":0.025,"q":0.031},{"i":"D4","t":0.6,"a":0.012,"b":0.012,"p":0.014,"q":0.016},{"i":"D4","t":0.7,"a":0.006,"b":0.006,"p":0.006,"q":0.006},{"i":"D4","t":0.8,"a":0.002,"b":0.002,"p":0.002,"q":0.002},{"i":"D4","t":0.9,"a":0,"b":0,"p":0,"q":0},{"i":"D4","t":1.0,"a":0,"b":0,"p":0,"q":0},
{"i":"D5","t":0.56,"y":0.22,"lab":"0.3 µM"},
{"i":"D5","t":0,"a":0,"b":0,"p":0,"q":0},{"i":"D5","t":0.03,"a":0,"b":0,"p":0,"q":0},{"i":"D5","t":0.05,"a":0.039,"b":0.041,"p":0.058,"q":0.062},{"i":"D5","t":0.08,"a":0.107,"b":0.113,"p":0.165,"q":0.175},{"i":"D5","t":0.1,"a":0.126,"b":0.134,"p":0.194,"q":0.206},{"i":"D5","t":0.13,"a":0.107,"b":0.113,"p":0.165,"q":0.175},{"i":"D5","t":0.16,"a":0.068,"b":0.072,"p":0.107,"q":0.113},{"i":"D5","t":0.2,"a":0.029,"b":0.031,"p":0.049,"q":0.051},{"i":"D5","t":0.25,"a":0.008,"b":0.008,"p":0.012,"q":0.012},{"i":"D5","t":0.3,"a":0.001,"b":0.001,"p":0.002,"q":0.002},{"i":"D5","t":0.35,"a":0,"b":0,"p":0,"q":0},{"i":"D5","t":0.8,"a":0,"b":0,"p":0,"q":0},
{"i":"D6","t":0.56,"y":0.132,"lab":"0.3 µM"},
{"i":"D6","t":0,"a":0,"b":0,"p":0,"q":0},{"i":"D6","t":0.05,"a":0.01,"b":0.01,"p":0.014,"q":0.016},{"i":"D6","t":0.1,"a":0.051,"b":0.059,"p":0.068,"q":0.083},{"i":"D6","t":0.15,"a":0.07,"b":0.08,"p":0.09,"q":0.11},{"i":"D6","t":0.2,"a":0.06,"b":0.07,"p":0.081,"q":0.099},{"i":"D6","t":0.25,"a":0.037,"b":0.043,"p":0.054,"q":0.066},{"i":"D6","t":0.3,"a":0.017,"b":0.019,"p":0.027,"q":0.033},{"i":"D6","t":0.35,"a":0.005,"b":0.005,"p":0.009,"q":0.011},{"i":"D6","t":0.4,"a":0,"b":0,"p":0.002,"q":0.002},{"i":"D6","t":0.45,"a":0,"b":0,"p":0,"q":0},{"i":"D6","t":0.8,"a":0,"b":0,"p":0,"q":0},
{"i":"D7","t":0.56,"y":0.176,"lab":"0.3 µM"},
{"i":"D7","t":0,"a":0,"b":0,"p":0,"q":0},{"i":"D7","t":0.05,"a":0.018,"b":0.022,"p":0.023,"q":0.027},{"i":"D7","t":0.1,"a":0.092,"b":0.108,"p":0.11,"q":0.13},{"i":"D7","t":0.15,"a":0.12,"b":0.14,"p":0.147,"q":0.173},{"i":"D7","t":0.2,"a":0.101,"b":0.119,"p":0.129,"q":0.151},{"i":"D7","t":0.25,"a":0.064,"b":0.076,"p":0.083,"q":0.097},{"i":"D7","t":0.3,"a":0.032,"b":0.038,"p":0.046,"q":0.054},{"i":"D7","t":0.35,"a":0.011,"b":0.013,"p":0.018,"q":0.022},{"i":"D7","t":0.4,"a":0.003,"b":0.003,"p":0.006,"q":0.006},{"i":"D7","t":0.45,"a":0,"b":0,"p":0.001,"q":0.001},{"i":"D7","t":0.5,"a":0,"b":0,"p":0,"q":0},{"i":"D7","t":0.8,"a":0,"b":0,"p":0,"q":0},
{"i":"D8","t":0.56,"y":0.07,"lab":"1 µM"},
{"i":"D8","t":0,"a":0,"b":0,"p":0,"q":0},{"i":"D8","t":0.05,"a":0.023,"b":0.027,"p":0.027,"q":0.033},{"i":"D8","t":0.1,"a":0.041,"b":0.049,"p":0.053,"q":0.063},{"i":"D8","t":0.15,"a":0.046,"b":0.054,"p":0.059,"q":0.071},{"i":"D8","t":0.2,"a":0.042,"b":0.05,"p":0.056,"q":0.068},{"i":"D8","t":0.3,"a":0.028,"b":0.032,"p":0.044,"q":0.052},{"i":"D8","t":0.4,"a":0.015,"b":0.017,"p":0.027,"q":0.033},{"i":"D8","t":0.5,"a":0.005,"b":0.005,"p":0.011,"q":0.013},{"i":"D8","t":0.55,"a":0.001,"b":0.001,"p":0.005,"q":0.005},{"i":"D8","t":0.6,"a":0,"b":0,"p":0.001,"q":0.001},{"i":"D8","t":0.8,"a":0,"b":0,"p":0,"q":0},
{"i":"T1","t":0.56,"y":0.132,"lab":"3 µM"},
{"i":"T1","t":0,"a":0,"b":0,"p":0,"q":0},{"i":"T1","t":0.05,"a":0.018,"b":0.022,"p":0.009,"q":0.011},{"i":"T1","t":0.1,"a":0.077,"b":0.093,"p":0.046,"q":0.054},{"i":"T1","t":0.15,"a":0.099,"b":0.121,"p":0.073,"q":0.087},{"i":"T1","t":0.2,"a":0.095,"b":0.115,"p":0.082,"q":0.098},{"i":"T1","t":0.25,"a":0.081,"b":0.099,"p":0.077,"q":0.093},{"i":"T1","t":0.3,"a":0.063,"b":0.077,"p":0.066,"q":0.078},{"i":"T1","t":0.35,"a":0.045,"b":0.055,"p":0.05,"q":0.06},{"i":"T1","t":0.4,"a":0.027,"b":0.033,"p":0.032,"q":0.038},{"i":"T1","t":0.45,"a":0.011,"b":0.013,"p":0.016,"q":0.02},{"i":"T1","t":0.5,"a":0.003,"b":0.003,"p":0.006,"q":0.006},{"i":"T1","t":0.55,"a":0,"b":0,"p":0.001,"q":0.001},{"i":"T1","t":0.6,"a":0,"b":0,"p":0,"q":0},{"i":"T1","t":0.8,"a":0,"b":0,"p":0,"q":0},
{"i":"T2","t":0.56,"y":0.132,"lab":"3 µM"},
{"i":"T2","t":0,"a":0,"b":0,"p":0,"q":0},{"i":"T2","t":0.05,"a":0.019,"b":0.021,"p":0.005,"q":0.005},{"i":"T2","t":0.1,"a":0.093,"b":0.107,"p":0.036,"q":0.044},{"i":"T2","t":0.12,"a":0.102,"b":0.118,"p":0.053,"q":0.067},{"i":"T2","t":0.15,"a":0.093,"b":0.107,"p":0.076,"q":0.094},{"i":"T2","t":0.2,"a":0.06,"b":0.07,"p":0.089,"q":0.111},{"i":"T2","t":0.22,"a":0.047,"b":0.054,"p":0.093,"q":0.117},{"i":"T2","t":0.25,"a":0.033,"b":0.037,"p":0.089,"q":0.111},{"i":"T2","t":0.3,"a":0.011,"b":0.013,"p":0.067,"q":0.083},{"i":"T2","t":0.35,"a":0.003,"b":0.003,"p":0.036,"q":0.044},{"i":"T2","t":0.4,"a":0,"b":0,"p":0.013,"q":0.017},{"i":"T2","t":0.45,"a":0,"b":0,"p":0.003,"q":0.003},{"i":"T2","t":0.5,"a":0,"b":0,"p":0,"q":0},{"i":"T2","t":0.8,"a":0,"b":0,"p":0,"q":0},
{"i":"T3","t":0.56,"y":0.132,"lab":"3 µM"},
{"i":"T3","t":0,"a":0,"b":0,"p":0,"q":0},{"i":"T3","t":0.05,"a":0.024,"b":0.026,"p":0.009,"q":0.011},{"i":"T3","t":0.1,"a":0.113,"b":0.127,"p":0.061,"q":0.079},{"i":"T3","t":0.12,"a":0.122,"b":0.138,"p":0.074,"q":0.096},{"i":"T3","t":0.15,"a":0.113,"b":0.127,"p":0.078,"q":0.102},{"i":"T3","t":0.2,"a":0.071,"b":0.079,"p":0.061,"q":0.079},{"i":"T3","t":0.25,"a":0.033,"b":0.037,"p":0.035,"q":0.045},{"i":"T3","t":0.3,"a":0.01,"b":0.01,"p":0.013,"q":0.017},{"i":"T3","t":0.35,"a":0.002,"b":0.002,"p":0.004,"q":0.004},{"i":"T3","t":0.4,"a":0,"b":0,"p":0,"q":0},{"i":"T3","t":0.8,"a":0,"b":0,"p":0,"q":0},
{"i":"T4","t":0.7,"y":0.132,"lab":"3 µM"},
{"i":"T4","t":0,"a":0,"b":0,"p":0,"q":0},{"i":"T4","t":0.05,"a":0.03,"b":0.03,"p":0.018,"q":0.022},{"i":"T4","t":0.1,"a":0.093,"b":0.097,"p":0.045,"q":0.055},{"i":"T4","t":0.13,"a":0.103,"b":0.107,"p":0.053,"q":0.063},{"i":"T4","t":0.15,"a":0.098,"b":0.102,"p":0.055,"q":0.065},{"i":"T4","t":0.2,"a":0.069,"b":0.071,"p":0.051,"q":0.061},{"i":"T4","t":0.3,"a":0.047,"b":0.047,"p":0.047,"q":0.057},{"i":"T4","t":0.4,"a":0.04,"b":0.04,"p":0.045,"q":0.055},{"i":"T4","t":0.5,"a":0.034,"b":0.034,"p":0.045,"q":0.055},{"i":"T4","t":0.6,"a":0.028,"b":0.028,"p":0.041,"q":0.049},{"i":"T4","t":0.7,"a":0.02,"b":0.02,"p":0.032,"q":0.038},{"i":"T4","t":0.8,"a":0.012,"b":0.012,"p":0.018,"q":0.022},{"i":"T4","t":0.9,"a":0.005,"b":0.005,"p":0.006,"q":0.006},{"i":"T4","t":1.0,"a":0,"b":0,"p":0,"q":0},
{"i":"T5","t":0.42,"y":0.132,"lab":"3 µM"},
{"i":"T5","t":0,"a":0,"b":0,"p":0,"q":0},{"i":"T5","t":0.03,"a":0.01,"b":0.01,"p":0,"q":0},{"i":"T5","t":0.05,"a":0.033,"b":0.047,"p":0.01,"q":0.01},{"i":"T5","t":0.09,"a":0.1,"b":0.14,"p":0.044,"q":0.056},{"i":"T5","t":0.12,"a":0.083,"b":0.117,"p":0.07,"q":0.09},{"i":"T5","t":0.15,"a":0.058,"b":0.082,"p":0.078,"q":0.102},{"i":"T5","t":0.17,"a":0.042,"b":0.058,"p":0.078,"q":0.102},{"i":"T5","t":0.2,"a":0.025,"b":0.035,"p":0.065,"q":0.085},{"i":"T5","t":0.25,"a":0.008,"b":0.008,"p":0.03,"q":0.04},{"i":"T5","t":0.3,"a":0,"b":0,"p":0.01,"q":0.01},{"i":"T5","t":0.35,"a":0,"b":0,"p":0.001,"q":0.001},{"i":"T5","t":0.6,"a":0,"b":0,"p":0,"q":0},
{"i":"T6","t":0.56,"y":0.132,"lab":"30 µM"},
{"i":"T6","t":0,"a":0,"b":0,"p":0,"q":0},{"i":"T6","t":0.05,"a":0.012,"b":0.012,"p":0.003,"q":0.003},{"i":"T6","t":0.1,"a":0.056,"b":0.064,"p":0.013,"q":0.017},{"i":"T6","t":0.15,"a":0.075,"b":0.085,"p":0.034,"q":0.046},{"i":"T6","t":0.2,"a":0.061,"b":0.069,"p":0.056,"q":0.074},{"i":"T6","t":0.25,"a":0.033,"b":0.037,"p":0.067,"q":0.089},{"i":"T6","t":0.3,"a":0.012,"b":0.012,"p":0.067,"q":0.089},{"i":"T6","t":0.35,"a":0.002,"b":0.002,"p":0.06,"q":0.08},{"i":"T6","t":0.4,"a":0,"b":0,"p":0.047,"q":0.063},{"i":"T6","t":0.5,"a":0,"b":0,"p":0.022,"q":0.028},{"i":"T6","t":0.6,"a":0,"b":0,"p":0.006,"q":0.006},{"i":"T6","t":0.65,"a":0,"b":0,"p":0.001,"q":0.001},{"i":"T6","t":0.7,"a":0,"b":0,"p":0,"q":0},{"i":"T6","t":0.8,"a":0,"b":0,"p":0,"q":0},
{"i":"T7","t":0.56,"y":0.176,"lab":"10 µM"},
{"i":"T7","t":0,"a":0,"b":0,"p":0,"q":0},{"i":"T7","t":0.05,"a":0.02,"b":0.02,"p":0.014,"q":0.016},{"i":"T7","t":0.1,"a":0.086,"b":0.094,"p":0.073,"q":0.087},{"i":"T7","t":0.15,"a":0.114,"b":0.126,"p":0.109,"q":0.131},{"i":"T7","t":0.18,"a":0.109,"b":0.121,"p":0.114,"q":0.136},{"i":"T7","t":0.2,"a":0.095,"b":0.105,"p":0.109,"q":0.131},{"i":"T7","t":0.25,"a":0.057,"b":0.063,"p":0.077,"q":0.093},{"i":"T7","t":0.3,"a":0.024,"b":0.026,"p":0.041,"q":0.049},{"i":"T7","t":0.35,"a":0.008,"b":0.008,"p":0.018,"q":0.022},{"i":"T7","t":0.4,"a":0.002,"b":0.002,"p":0.008,"q":0.008},{"i":"T7","t":0.45,"a":0,"b":0,"p":0.002,"q":0.002},{"i":"T7","t":0.5,"a":0,"b":0,"p":0,"q":0},{"i":"T7","t":0.8,"a":0,"b":0,"p":0,"q":0},
{"i":"T8","t":0.7,"y":0.088,"lab":"10 µM"},
{"i":"T8","t":0,"a":0,"b":0,"p":0,"q":0},{"i":"T8","t":0.05,"a":0.019,"b":0.021,"p":0.003,"q":0.003},{"i":"T8","t":0.1,"a":0.045,"b":0.051,"p":0.013,"q":0.017},{"i":"T8","t":0.16,"a":0.054,"b":0.06,"p":0.027,"q":0.033},{"i":"T8","t":0.2,"a":0.052,"b":0.058,"p":0.036,"q":0.044},{"i":"T8","t":0.3,"a":0.039,"b":0.045,"p":0.055,"q":0.069},{"i":"T8","t":0.4,"a":0.026,"b":0.03,"p":0.066,"q":0.082},{"i":"T8","t":0.5,"a":0.014,"b":0.016,"p":0.062,"q":0.078},{"i":"T8","t":0.6,"a":0.006,"b":0.006,"p":0.045,"q":0.055},{"i":"T8","t":0.7,"a":0.001,"b":0.001,"p":0.022,"q":0.028},{"i":"T8","t":0.8,"a":0,"b":0,"p":0.006,"q":0.006},{"i":"T8","t":0.9,"a":0,"b":0,"p":0,"q":0},{"i":"T8","t":1.0,"a":0,"b":0,"p":0,"q":0},
{"i":"R1","t":0.56,"y":0.088,"lab":"30 µM"},
{"i":"R1","t":0,"a":0,"b":0,"p":0,"q":0},{"i":"R1","t":0.05,"a":0.01,"b":0.01,"p":0,"q":0},{"i":"R1","t":0.1,"a":0.037,"b":0.043,"p":0.003,"q":0.003},{"i":"R1","t":0.175,"a":0.052,"b":0.06,"p":0.016,"q":0.02},{"i":"R1","t":0.2,"a":0.049,"b":0.057,"p":0.022,"q":0.028},{"i":"R1","t":0.3,"a":0.033,"b":0.037,"p":0.04,"q":0.05},{"i":"R1","t":0.38,"a":0.023,"b":0.027,"p":0.046,"q":0.058},{"i":"R1","t":0.45,"a":0.014,"b":0.016,"p":0.042,"q":0.054},{"i":"R1","t":0.5,"a":0.01,"b":0.01,"p":0.035,"q":0.045},{"i":"R1","t":0.55,"a":0.004,"b":0.004,"p":0.025,"q":0.031},{"i":"R1","t":0.6,"a":0,"b":0,"p":0.013,"q":0.017},{"i":"R1","t":0.65,"a":0,"b":0,"p":0.005,"q":0.005},{"i":"R1","t":0.7,"a":0,"b":0,"p":0,"q":0},{"i":"R1","t":0.8,"a":0,"b":0,"p":0,"q":0},
{"i":"R2","t":0.56,"y":0.088,"lab":"30 µM"},
{"i":"R2","t":0,"a":0,"b":0,"p":0,"q":0},{"i":"R2","t":0.05,"a":0.015,"b":0.015,"p":0,"q":0},{"i":"R2","t":0.1,"a":0.067,"b":0.073,"p":0.005,"q":0.005},{"i":"R2","t":0.13,"a":0.074,"b":0.08,"p":0.014,"q":0.016},{"i":"R2","t":0.15,"a":0.069,"b":0.075,"p":0.024,"q":0.026},{"i":"R2","t":0.2,"a":0.053,"b":0.057,"p":0.047,"q":0.053},{"i":"R2","t":0.27,"a":0.021,"b":0.023,"p":0.065,"q":0.073},{"i":"R2","t":0.3,"a":0.012,"b":0.012,"p":0.062,"q":0.07},{"i":"R2","t":0.35,"a":0.003,"b":0.003,"p":0.045,"q":0.051},{"i":"R2","t":0.4,"a":0,"b":0,"p":0.024,"q":0.026},{"i":"R2","t":0.45,"a":0,"b":0,"p":0.01,"q":0.01},{"i":"R2","t":0.5,"a":0,"b":0,"p":0.002,"q":0.002},{"i":"R2","t":0.55,"a":0,"b":0,"p":0,"q":0},{"i":"R2","t":0.8,"a":0,"b":0,"p":0,"q":0},
{"i":"R3","t":0.56,"y":0.088,"lab":"30 µM"},
{"i":"R3","t":0,"a":0,"b":0,"p":0,"q":0},{"i":"R3","t":0.05,"a":0.014,"b":0.016,"p":0.005,"q":0.005},{"i":"R3","t":0.1,"a":0.068,"b":0.082,"p":0.034,"q":0.046},{"i":"R3","t":0.14,"a":0.085,"b":0.101,"p":0.055,"q":0.075},{"i":"R3","t":0.18,"a":0.068,"b":0.082,"p":0.062,"q":0.086},{"i":"R3","t":0.2,"a":0.055,"b":0.065,"p":0.059,"q":0.081},{"i":"R3","t":0.25,"a":0.027,"b":0.033,"p":0.046,"q":0.064},{"i":"R3","t":0.3,"a":0.01,"b":0.01,"p":0.025,"q":0.035},{"i":"R3","t":0.35,"a":0.002,"b":0.002,"p":0.01,"q":0.014},{"i":"R3","t":0.4,"a":0,"b":0,"p":0.004,"q":0.004},{"i":"R3","t":0.45,"a":0,"b":0,"p":0,"q":0},{"i":"R3","t":0.8,"a":0,"b":0,"p":0,"q":0},
{"i":"R4","t":0.7,"y":0.132,"lab":"10 µM"},
{"i":"R4","t":0,"a":0,"b":0,"p":0,"q":0},{"i":"R4","t":0.05,"a":0.02,"b":0.02,"p":0,"q":0},{"i":"R4","t":0.1,"a":0.105,"b":0.105,"p":0.002,"q":0.002},{"i":"R4","t":0.12,"a":0.118,"b":0.118,"p":0.004,"q":0.004},{"i":"R4","t":0.15,"a":0.11,"b":0.11,"p":0.008,"q":0.008},{"i":"R4","t":0.2,"a":0.07,"b":0.07,"p":0.015,"q":0.015},{"i":"R4","t":0.25,"a":0.045,"b":0.045,"p":0.023,"q":0.023},{"i":"R4","t":0.3,"a":0.035,"b":0.035,"p":0.032,"q":0.032},{"i":"R4","t":0.4,"a":0.028,"b":0.028,"p":0.045,"q":0.045},{"i":"R4","t":0.5,"a":0.022,"b":0.022,"p":0.052,"q":0.052},{"i":"R4","t":0.6,"a":0.017,"b":0.017,"p":0.05,"q":0.05},{"i":"R4","t":0.7,"a":0.012,"b":0.012,"p":0.042,"q":0.042},{"i":"R4","t":0.8,"a":0.007,"b":0.007,"p":0.028,"q":0.028},{"i":"R4","t":0.9,"a":0.003,"b":0.003,"p":0.01,"q":0.01},{"i":"R4","t":1.0,"a":0,"b":0,"p":0.002,"q":0.002},
{"i":"R5","t":0.56,"y":0.088,"lab":"30 µM"},
{"i":"R5","t":0,"a":0,"b":0,"p":0,"q":0},{"i":"R5","t":0.03,"a":0,"b":0,"p":0,"q":0},{"i":"R5","t":0.05,"a":0.03,"b":0.03,"p":0,"q":0},{"i":"R5","t":0.09,"a":0.07,"b":0.076,"p":0.003,"q":0.005},{"i":"R5","t":0.12,"a":0.058,"b":0.062,"p":0.008,"q":0.012},{"i":"R5","t":0.15,"a":0.034,"b":0.036,"p":0.011,"q":0.019},{"i":"R5","t":0.19,"a":0.015,"b":0.015,"p":0.015,"q":0.025},{"i":"R5","t":0.25,"a":0.003,"b":0.003,"p":0.011,"q":0.017},{"i":"R5","t":0.3,"a":0,"b":0,"p":0.004,"q":0.006},{"i":"R5","t":0.35,"a":0,"b":0,"p":0.001,"q":0.001},{"i":"R5","t":0.4,"a":0,"b":0,"p":0,"q":0},{"i":"R5","t":0.8,"a":0,"b":0,"p":0,"q":0},
{"i":"R6","t":0.56,"y":0.132,"lab":"10 µM"},
{"i":"R6","t":0,"a":0,"b":0,"p":0,"q":0},{"i":"R6","t":0.05,"a":0.025,"b":0.025,"p":0,"q":0},{"i":"R6","t":0.1,"a":0.08,"b":0.08,"p":0.005,"q":0.005},{"i":"R6","t":0.15,"a":0.098,"b":0.102,"p":0.015,"q":0.015},{"i":"R6","t":0.2,"a":0.083,"b":0.087,"p":0.03,"q":0.03},{"i":"R6","t":0.25,"a":0.055,"b":0.055,"p":0.052,"q":0.052},{"i":"R6","t":0.3,"a":0.028,"b":0.028,"p":0.073,"q":0.077},{"i":"R6","t":0.375,"a":0.008,"b":0.008,"p":0.088,"q":0.092},{"i":"R6","t":0.42,"a":0.002,"b":0.002,"p":0.078,"q":0.082},{"i":"R6","t":0.5,"a":0,"b":0,"p":0.04,"q":0.04},{"i":"R6","t":0.55,"a":0,"b":0,"p":0.015,"q":0.015},{"i":"R6","t":0.6,"a":0,"b":0,"p":0.003,"q":0.003},{"i":"R6","t":0.65,"a":0,"b":0,"p":0,"q":0},{"i":"R6","t":0.8,"a":0,"b":0,"p":0,"q":0},
{"i":"R7","t":0.56,"y":0.176,"lab":"30 µM"},
{"i":"R7","t":0,"a":0,"b":0,"p":0,"q":0},{"i":"R7","t":0.05,"a":0.028,"b":0.032,"p":0.005,"q":0.005},{"i":"R7","t":0.1,"a":0.093,"b":0.107,"p":0.028,"q":0.032},{"i":"R7","t":0.16,"a":0.14,"b":0.16,"p":0.074,"q":0.086},{"i":"R7","t":0.2,"a":0.121,"b":0.139,"p":0.093,"q":0.107},{"i":"R7","t":0.27,"a":0.07,"b":0.08,"p":0.108,"q":0.124},{"i":"R7","t":0.3,"a":0.047,"b":0.054,"p":0.098,"q":0.112},{"i":"R7","t":0.35,"a":0.019,"b":0.021,"p":0.065,"q":0.075},{"i":"R7","t":0.4,"a":0.005,"b":0.005,"p":0.033,"q":0.037},{"i":"R7","t":0.45,"a":0,"b":0,"p":0.014,"q":0.016},{"i":"R7","t":0.5,"a":0,"b":0,"p":0.005,"q":0.005},{"i":"R7","t":0.55,"a":0,"b":0,"p":0,"q":0},{"i":"R7","t":0.8,"a":0,"b":0,"p":0,"q":0},
{"i":"R8","t":0.63,"y":0.07,"lab":"10 µM"},
{"i":"R8","t":0,"a":0,"b":0,"p":0,"q":0},{"i":"R8","t":0.05,"a":0.02,"b":0.02,"p":0,"q":0},{"i":"R8","t":0.1,"a":0.045,"b":0.045,"p":0.003,"q":0.003},{"i":"R8","t":0.13,"a":0.05,"b":0.05,"p":0.006,"q":0.006},{"i":"R8","t":0.2,"a":0.045,"b":0.045,"p":0.012,"q":0.014},{"i":"R8","t":0.3,"a":0.033,"b":0.033,"p":0.02,"q":0.024},{"i":"R8","t":0.4,"a":0.022,"b":0.022,"p":0.023,"q":0.029},{"i":"R8","t":0.46,"a":0.017,"b":0.017,"p":0.024,"q":0.03},{"i":"R8","t":0.55,"a":0.01,"b":0.01,"p":0.022,"q":0.028},{"i":"R8","t":0.65,"a":0.005,"b":0.005,"p":0.016,"q":0.02},{"i":"R8","t":0.75,"a":0.002,"b":0.002,"p":0.009,"q":0.011},{"i":"R8","t":0.85,"a":0,"b":0,"p":0.003,"q":0.003},{"i":"R8","t":0.9,"a":0,"b":0,"p":0,"q":0}
]
},
"data": {"name": "curves"},
"transform": [{"lookup": "i", "from": {"data": {"name": "panels"}, "key": "i", "fields": ["r", "c"]}}],
"facet": {
  "row": {"field": "r", "type": "nominal", "title": null, "sort": ["BayK-8644","Nifedipine","EMD-57033","Isoprenaline","Digoxin","Thapsigargin","Ryanodine"],
          "header": {"labelAngle": -90, "labelOrient": "left", "labelAlign": "center", "labelBaseline": "bottom", "labelPadding": -9, "labelFontSize": 10}},
  "column": {"field": "c", "type": "nominal", "title": null, "sort": ["PLU","CDI","ICE","CEL","COR","C25","AT1","NCR"],
          "header": {"labelFontSize": 10, "labelPadding": 4}}
},
"spacing": {"row": 12, "column": 4},
"resolve": {"scale": {"x": "independent", "y": "independent"}},
"spec": {
  "width": 64,
  "height": 50,
  "layer": [
    {"transform": [{"filter": {"field": "a", "valid": true}}],
     "mark": {"type": "area", "interpolate": "monotone", "fill": "#303030", "fillOpacity": 1, "stroke": "#000000", "strokeWidth": 0.6},
     "encoding": {
       "x": {"field": "t", "type": "quantitative", "title": "Time [s]", "scale": {"nice": false, "zero": true}},
       "y": {"field": "a", "type": "quantitative", "title": "Force [mN]", "scale": {"nice": 4, "zero": true}},
       "y2": {"field": "b"}
     }},
    {"transform": [{"filter": {"field": "p", "valid": true}}],
     "mark": {"type": "area", "interpolate": "monotone", "fill": "#e3261f", "fillOpacity": 0.9, "stroke": "#d41c1c", "strokeWidth": 0.6},
     "encoding": {
       "x": {"field": "t", "type": "quantitative", "title": "Time [s]"},
       "y": {"field": "p", "type": "quantitative", "title": "Force [mN]"},
       "y2": {"field": "q"}
     }},
    {"transform": [{"filter": {"field": "y", "valid": true}}],
     "mark": {"type": "text", "color": "#e23a32", "fontSize": 5.5, "font": "Liberation Sans", "align": "center", "baseline": "middle"},
     "encoding": {
       "x": {"field": "t", "type": "quantitative", "title": "Time [s]"},
       "y": {"field": "y", "type": "quantitative", "title": "Force [mN]"},
       "text": {"field": "lab", "type": "nominal"}
     }}
  ]
},
"config": {
  "view": {"stroke": null},
  "font": "Liberation Sans",
  "header": {"labelFont": "Liberation Sans", "labelColor": "#222222", "labelFontSize": 10},
  "axis": {"grid": false, "labelFont": "Liberation Sans", "titleFont": "Liberation Sans", "labelFontSize": 4.5, "titleFontSize": 5, "titleFontWeight": "normal",
           "domainColor": "#000000", "domainWidth": 0.8, "tickColor": "#000000", "tickWidth": 0.6, "tickSize": 2, "labelColor": "#000000", "titleColor": "#000000",
           "labelPadding": 1, "titlePadding": 1, "labelFlush": false},
  "axisX": {"tickCount": 5, "format": ".1f"},
  "axisY": {"tickCount": 4, "format": ".2f"}
}
}
